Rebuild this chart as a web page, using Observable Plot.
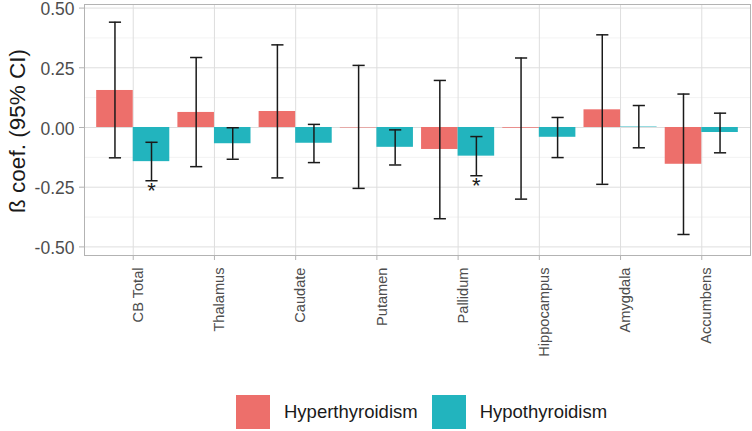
<!DOCTYPE html>
<html><head><meta charset="utf-8">
<script src="https://cdn.jsdelivr.net/npm/d3@7"></script>
<script src="https://cdn.jsdelivr.net/npm/@observablehq/plot@0.6"></script>
<style>
body{margin:0;background:#fff;font-family:"Liberation Sans",Arial,sans-serif;}
#wrap{position:relative;width:752px;height:431px;overflow:hidden;}
#legend{position:absolute;left:236px;top:395px;display:flex;align-items:center;font-size:18.5px;color:#1a1a1a;}
.sw{width:34px;height:34px;margin-right:14px;}
.lab{margin-right:14px;}
svg [aria-label="y-axis tick"] path, svg [aria-label="x-axis tick"] path{stroke:#b3b3b3;}
svg [aria-label="y-axis tick label"], svg [aria-label="x-axis tick label"]{fill:#4d4d4d;}
</style></head><body><div id="wrap"><div id="chart"></div><div id="legend"></div></div>
<script>
const regions = ["CB Total","Thalamus","Caudate","Putamen","Pallidum","Hippocampus","Amygdala","Accumbens"];
const groups = ["Hyperthyroidism","Hypothyroidism"];
const colors = ["#ED6F6B","#22B4BE"];
const hyperBeta = [0.155,0.063,0.067,-0.002,-0.092,-0.003,0.074,-0.154];
const hyperLo   = [-0.127,-0.164,-0.211,-0.255,-0.382,-0.300,-0.238,-0.448];
const hyperHi   = [0.441,0.293,0.346,0.260,0.197,0.291,0.388,0.140];
const hypoBeta  = [-0.143,-0.068,-0.066,-0.083,-0.120,-0.041,0.002,-0.021];
const hypoLo    = [-0.223,-0.133,-0.147,-0.157,-0.202,-0.126,-0.085,-0.106];
const hypoHi    = [-0.062,-0.001,0.013,-0.010,-0.038,0.042,0.092,0.060];
const hyperSig  = [false,false,false,false,false,false,false,false];
const hypoSig   = [true,false,false,false,true,false,false,false];
const yTicks = [-0.5,-0.25,0,0.25,0.5];
const yMinor = [-0.375,-0.125,0.125,0.375];

const dodge = 0.45;
const rows = [];
regions.forEach((r,i)=>{
  [[hyperBeta,hyperLo,hyperHi,hyperSig],[hypoBeta,hypoLo,hypoHi,hypoSig]].forEach((s,gi)=>{
    const c = i + (gi-0.5)*dodge;
    rows.push({region:r, group:groups[gi], beta:s[0][i], lo:s[1][i], hi:s[2][i], sig:s[3][i],
      c, x1:c-dodge/2, x2:c+dodge/2, zero:0, cl:c-0.075, cr:c+0.075});
  });
});

const chart = Plot.plot({
  width: 752, height: 385,
  marginLeft: 84, marginRight: 2, marginTop: 4, marginBottom: 130,
  style: {fontFamily: '"Liberation Sans", Arial, sans-serif', background: "#fff"},
  x: {domain: [-0.6, 7.6]},
  y: {domain: [-0.536, 0.515]},
  color: {domain: groups, range: colors},
  marks: [
    Plot.gridY(yMinor, {stroke: "#ececec", strokeOpacity: 1, strokeWidth: 0.7}),
    Plot.gridY(yTicks, {stroke: "#dedede", strokeOpacity: 1, strokeWidth: 1}),
    Plot.gridX(d3.range(regions.length), {stroke: "#dedede", strokeOpacity: 1, strokeWidth: 1}),
    Plot.rect(rows, {x1: "x1", x2: "x2", y1: "zero", y2: "beta", fill: "group"}),
    Plot.ruleX(rows, {x: "c", y1: "lo", y2: "hi", stroke: "#1a1a1a", strokeWidth: 1.5}),
    Plot.link(rows, {x1: "cl", x2: "cr", y1: "lo", y2: "lo", stroke: "#1a1a1a", strokeWidth: 1.5}),
    Plot.link(rows, {x1: "cl", x2: "cr", y1: "hi", y2: "hi", stroke: "#1a1a1a", strokeWidth: 1.5}),
    Plot.text(rows.filter(d=>d.sig), {x: "c", y: "lo", text: () => "*", fontSize: 22, lineAnchor: "top", dy: 2, fill: "#1a1a1a"}),
    Plot.frame({stroke: "#b3b3b3", strokeWidth: 1}),
    Plot.axisY(yTicks, {text: null, tickSize: 5, label: null}),
    Plot.axisY(yTicks, {tickFormat: d => d.toFixed(2), tickSize: 0, tickPadding: 10, fontSize: 17.5, dy: 1.5, label: null}),
    Plot.axisX(d3.range(regions.length), {text: null, tickSize: 5, label: null}),
    Plot.axisX(d3.range(regions.length), {tickFormat: i => regions[i], tickRotate: -90, tickSize: 0, tickPadding: 12, fontSize: 14.6, dx: 5, label: null}),
    Plot.text(["ß coef. (95% CI)"], {frameAnchor: "left", textAnchor: "middle", rotate: -90, dx: -67, dy: 1, fontSize: 22.5, fill: "#1a1a1a"})
  ]
});
document.getElementById("chart").appendChild(chart);

const leg = document.getElementById("legend");
groups.forEach((g,i)=>{
  const sw = document.createElement("div"); sw.className = "sw"; sw.style.background = colors[i];
  const t = document.createElement("div"); t.className = "lab"; t.textContent = g;
  leg.appendChild(sw); leg.appendChild(t);
});
</script></body></html>
